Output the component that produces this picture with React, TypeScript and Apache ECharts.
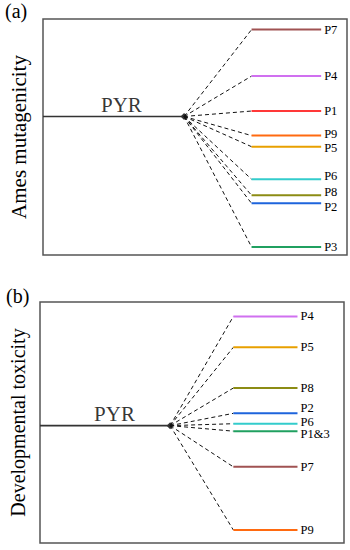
import React, { useEffect, useRef } from "react";
import * as echarts from "echarts";

// Panel (a): Ames mutagenicity (relative level, 0-100 scale)
const aNames = ["P7", "P4", "P1", "P9", "P5", "P6", "P8", "P2", "P3"];
const aValues = [95.5, 75.8, 61.0, 50.6, 45.9, 32.1, 25.3, 21.9, 3.4];
const aColors = ["#A05252", "#D070F0", "#FF3838", "#FF6A10", "#E8A000", "#33CCCC", "#8C8C14", "#1E64DC", "#20A060"];
const aLabelShift = [0, 0, 0, -2, 1, -3, -3, 4, 0];
const aPyr = 58.7;
const aPyrEnd = 46.4;
const aLevelStart = 68.6;
const aLevelEnd = 91.5;
const aPyrLabelX = 25.8;

// Panel (b): Developmental toxicity
const bNames = ["P4", "P5", "P8", "P2", "P6", "P1&3", "P7", "P9"];
const bValues = [94.0, 81.2, 64.3, 53.8, 49.5, 46.4, 31.6, 5.4];
const bColors = ["#D070F0", "#E8A000", "#8C8C14", "#1E64DC", "#33CCCC", "#20A060", "#A05252", "#FF6A10"];
const bLabelShift = [0, 0, 0, -5, -2, 3, 0, 0];
const bPyr = 48.7;
const bPyrEnd = 42.8;
const bLevelStart = 63.6;
const bLevelEnd = 84.7;
const bPyrLabelX = 24.5;

const FONT = "'Liberation Serif', 'Times New Roman', serif";

function panelSeries(
  idx: number,
  names: string[],
  values: number[],
  colors: string[],
  shifts: number[],
  pyr: number,
  pyrEnd: number,
  lvStart: number,
  lvEnd: number,
  labelX: number
) {
  const s: any[] = [];
  s.push({
    type: "line",
    xAxisIndex: idx,
    yAxisIndex: idx,
    data: [[0, pyr], [pyrEnd, pyr]],
    symbol: "none",
    lineStyle: { color: "#333", width: 1.6 },
    silent: true,
  });
  s.push({
    type: "scatter",
    xAxisIndex: idx,
    yAxisIndex: idx,
    data: [[pyrEnd, pyr]],
    symbol: "diamond",
    symbolSize: 7,
    itemStyle: { color: "#000" },
    silent: true,
  });
  s.push({
    type: "scatter",
    xAxisIndex: idx,
    yAxisIndex: idx,
    data: [[labelX, pyr]],
    symbolSize: 0,
    label: {
      show: true,
      position: "top",
      distance: 1,
      formatter: "PYR",
      fontFamily: FONT,
      fontSize: 21,
      color: "#000",
    },
    silent: true,
  });
  names.forEach((n, i) => {
    s.push({
      type: "line",
      xAxisIndex: idx,
      yAxisIndex: idx,
      data: [[pyrEnd, pyr], [lvStart, values[i]]],
      symbol: "none",
      lineStyle: { color: "#111", width: 1, type: [4, 3] },
      silent: true,
    });
    s.push({
      type: "line",
      xAxisIndex: idx,
      yAxisIndex: idx,
      data: [[lvStart, values[i]], [lvEnd, values[i]]],
      symbol: "none",
      lineStyle: { color: colors[i], width: 2 },
      endLabel: {
        show: true,
        formatter: n,
        fontFamily: FONT,
        fontSize: 12.5,
        lineHeight: 12,
        color: "#000",
        distance: 3,
        offset: [0, shifts[i]],
      },
      silent: true,
    });
  });
  return s;
}

export default function App() {
  const ref = useRef<HTMLDivElement>(null);
  useEffect(() => {
    if (!ref.current) return;
    const chart = echarts.init(ref.current, undefined, { renderer: "svg" });
    const axisCommon = {
      type: "value",
      min: 0,
      max: 100,
      axisLine: { show: false },
      axisTick: { show: false },
      axisLabel: { show: false },
      splitLine: { show: false },
    };
    chart.setOption({
      animation: false,
      grid: [
        { left: 41, top: 19, width: 306, height: 236, show: true, borderColor: "#555", borderWidth: 1.5, backgroundColor: "transparent" },
        { left: 36, top: 302, width: 308, height: 241, show: true, borderColor: "#555", borderWidth: 1.5, backgroundColor: "transparent" },
      ],
      xAxis: [
        { ...axisCommon, gridIndex: 0 },
        { ...axisCommon, gridIndex: 1 },
      ],
      yAxis: [
        {
          ...axisCommon,
          gridIndex: 0,
          name: "Ames mutagenicity",
          nameLocation: "middle",
          nameRotate: 90,
          nameGap: 14,
          nameTextStyle: { fontFamily: FONT, fontSize: 21, color: "#000" },
        },
        {
          ...axisCommon,
          gridIndex: 1,
          name: "Developmental toxicity",
          nameLocation: "middle",
          nameRotate: 90,
          nameGap: 12,
          nameTextStyle: { fontFamily: FONT, fontSize: 20, color: "#000" },
        },
      ],
      graphic: [
        { type: "text", left: 5, top: 1, style: { text: "(a)", fontFamily: FONT, fontSize: 20, fill: "#000" } },
        { type: "text", left: 6, top: 286, style: { text: "(b)", fontFamily: FONT, fontSize: 20, fill: "#000" } },
      ],
      series: [
        ...panelSeries(0, aNames, aValues, aColors, aLabelShift, aPyr, aPyrEnd, aLevelStart, aLevelEnd, aPyrLabelX),
        ...panelSeries(1, bNames, bValues, bColors, bLabelShift, bPyr, bPyrEnd, bLevelStart, bLevelEnd, bPyrLabelX),
      ],
    });
    return () => chart.dispose();
  }, []);
  return <div ref={ref} style={{ width: 350, height: 550, position: "absolute", left: 0, top: 0 }} />;
}
